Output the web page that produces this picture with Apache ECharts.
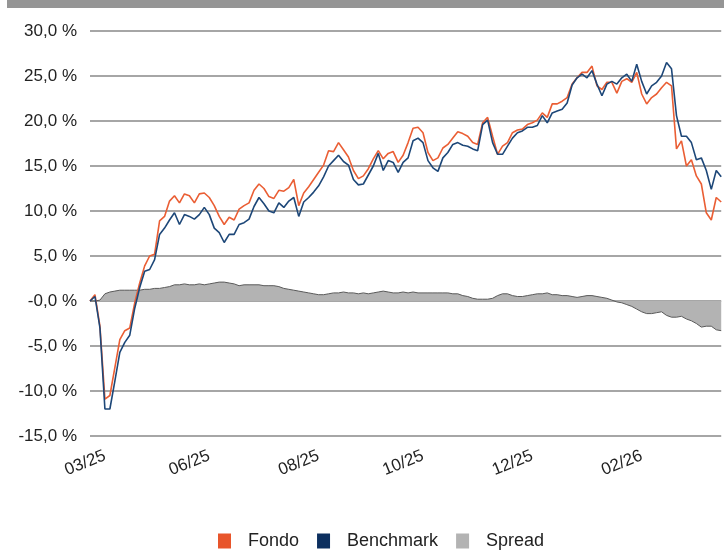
<!doctype html>
<html lang="it">
  <head>
    <meta charset="UTF-8" />
    <title>Fondo vs Benchmark</title>
    <script src="https://cdn.jsdelivr.net/npm/echarts@6/dist/echarts.min.js"></script>
    <style>
      * { margin: 0; padding: 0; }
      html, body, #chart { width: 724px; height: 550px; overflow: hidden; background: #fff; }
    </style>
  </head>
  <body>
    <div id="chart"></div>
    <script>
      // x-axis labels and the sample index they sit on
      const tickLabels = ['03/25', '06/25', '08/25', '10/25', '12/25', '02/26'];
      const tickIndex = [3, 24, 46, 67, 89, 111];

      // performance in % (one sample every ~5 px)
      const fondo = [
        0.0, 0.7, -2.8, -10.9, -10.5, -7.4, -4.3, -3.3, -3.0, -0.2,
        2.0, 3.9, 5.0, 5.2, 8.9, 9.4, 11.1, 11.7, 10.9, 11.9,
        11.7, 10.9, 11.9, 12.0, 11.5, 10.6, 9.4, 8.5, 9.3, 9.0,
        10.2, 10.6, 10.9, 12.3, 13.0, 12.5, 11.6, 11.4, 12.3, 12.2,
        12.6, 13.5, 10.6, 12.0, 12.7, 13.5, 14.3, 15.1, 16.7, 16.6,
        17.6, 16.8, 16.0, 14.5, 13.6, 13.9, 14.7, 15.8, 16.7, 15.8,
        16.4, 16.6, 15.4, 16.2, 17.6, 19.2, 19.3, 18.7, 16.5, 15.6,
        15.9, 17.0, 17.4, 18.1, 18.8, 18.6, 18.3, 17.6, 17.4, 19.8,
        20.4, 18.3, 16.3, 17.2, 17.6, 18.7, 19.0, 19.1, 19.6, 19.8,
        20.1, 20.9, 20.4, 21.9, 21.9, 22.2, 22.6, 24.1, 24.8, 25.4,
        25.4, 26.1, 23.9, 23.5, 24.3, 24.3, 23.1, 24.4, 24.7, 24.3,
        25.4, 23.0, 21.9, 22.6, 23.0, 23.7, 24.3, 23.9, 16.9, 17.8,
        15.0, 15.7, 13.9, 13.0, 9.8, 9.0, 11.5, 11.0
      ];
      const benchmark = [
        0.0, 0.5, -3.0, -12.0, -12.0, -8.9, -5.7, -4.6, -3.8, -0.8,
        1.5, 3.3, 3.5, 4.6, 7.4, 8.1, 9.0, 9.8, 8.5, 9.6,
        9.4, 9.1, 9.6, 10.4, 9.6, 8.1, 7.6, 6.5, 7.4, 7.4,
        8.5, 8.7, 9.1, 10.5, 11.5, 10.8, 10.0, 9.8, 10.9, 10.4,
        11.1, 11.5, 9.4, 11.0, 11.5, 12.1, 12.8, 13.8, 15.0, 15.6,
        16.2, 15.5, 15.1, 13.5, 12.9, 13.0, 14.0, 15.0, 16.4, 14.5,
        15.6, 15.4, 14.3, 15.4, 15.9, 17.8, 18.1, 17.6, 15.6, 14.8,
        14.4, 15.9, 16.5, 17.4, 17.6, 17.3, 17.2, 16.9, 16.7, 19.6,
        20.1, 17.6, 16.3, 16.3, 17.2, 18.1, 18.7, 18.9, 19.3, 19.3,
        19.5, 20.6, 19.8, 20.9, 21.1, 21.3, 22.0, 24.0, 24.8, 25.2,
        24.8, 25.6, 24.1, 22.8, 24.1, 24.4, 24.1, 24.8, 25.2, 24.4,
        26.3, 24.4, 23.0, 23.9, 24.3, 25.0, 26.5, 25.8, 20.6, 18.3,
        18.3, 17.6, 15.7, 15.9, 14.5, 12.4, 14.5, 13.8
      ];
      const spread = [
        0.0, 0.0, 0.1, 0.8, 1.0, 1.1, 1.2, 1.2, 1.2, 1.2,
        1.2, 1.3, 1.3, 1.4, 1.4, 1.5, 1.6, 1.8, 1.8, 1.9,
        1.8, 1.8, 1.9, 1.8, 1.9, 2.0, 2.1, 2.1, 2.0, 1.9,
        1.7, 1.8, 1.8, 1.8, 1.8, 1.7, 1.7, 1.7, 1.6, 1.4,
        1.3, 1.2, 1.1, 1.0, 0.9, 0.8, 0.7, 0.7, 0.8, 0.9,
        0.9, 1.0, 0.9, 0.9, 0.8, 0.9, 0.8, 0.9, 1.0, 1.1,
        1.0, 0.9, 0.9, 1.0, 0.9, 1.0, 0.9, 0.9, 0.9, 0.9,
        0.9, 0.9, 0.9, 0.8, 0.8, 0.6, 0.5, 0.3, 0.2, 0.2,
        0.2, 0.3, 0.6, 0.8, 0.8, 0.6, 0.5, 0.5, 0.6, 0.7,
        0.8, 0.8, 0.9, 0.7, 0.7, 0.6, 0.6, 0.5, 0.4, 0.5,
        0.6, 0.6, 0.5, 0.4, 0.3, 0.1, -0.1, -0.2, -0.4, -0.6,
        -0.9, -1.2, -1.4, -1.4, -1.3, -1.2, -1.6, -1.8, -1.8, -1.7,
        -2.0, -2.2, -2.5, -2.9, -2.8, -2.8, -3.2, -3.3
      ];

      const categories = fondo.map((v, i) => {
        const k = tickIndex.indexOf(i);
        return k >= 0 ? tickLabels[k] : '';
      });

      const fmt = (v) => (v === 0 ? '-0,0' : v.toFixed(1).replace('.', ',')) + ' %';
      const font = 'Liberation Sans';

      const chart = echarts.init(document.getElementById('chart'));
      chart.setOption({
        animation: false,
        graphic: [
          { type: 'rect', shape: { x: 7, y: 0, width: 717, height: 8 }, style: { fill: '#959595' } }
        ],
        grid: { left: 90, right: 0, top: 31, bottom: 114 },
        legend: {
          top: 527,
          left: 213,
          itemWidth: 13,
          itemHeight: 15,
          itemGap: 18,
          icon: 'rect',
          textStyle: { fontFamily: font, fontSize: 18, color: '#222', padding: [0, 0, 0, 12] },
          data: ['Fondo', 'Benchmark', 'Spread']
        },
        xAxis: {
          type: 'category',
          boundaryGap: false,
          data: categories,
          axisLine: { show: false },
          axisTick: { show: false },
          axisLabel: { interval: 0, rotate: 22, margin: 19, fontFamily: font, fontSize: 17, color: '#222' },
          splitLine: { show: false }
        },
        yAxis: {
          type: 'value',
          min: -15,
          max: 30,
          interval: 5,
          axisLine: { show: false },
          axisTick: { show: false },
          axisLabel: { margin: 13, formatter: fmt, fontFamily: font, fontSize: 17, color: '#222' },
          splitLine: { lineStyle: { color: '#a6a6a6', width: 2 } }
        },
        series: [
          {
            name: 'Fondo',
            type: 'line',
            data: fondo,
            symbol: 'none',
            z: 3,
            itemStyle: { color: '#e8552b' },
            lineStyle: { color: '#ea5e34', width: 1.6 }
          },
          {
            name: 'Benchmark',
            type: 'line',
            data: benchmark,
            symbol: 'none',
            z: 4,
            itemStyle: { color: '#0c2f5f' },
            lineStyle: { color: '#1d4778', width: 1.6 }
          },
          {
            name: 'Spread',
            type: 'line',
            data: spread,
            symbol: 'none',
            z: 2,
            itemStyle: { color: '#b3b3b3' },
            lineStyle: { color: '#5a5a5a', width: 1 },
            areaStyle: { color: '#b3b3b3', opacity: 1 }
          }
        ]
      });
    </script>
  </body>
</html>
